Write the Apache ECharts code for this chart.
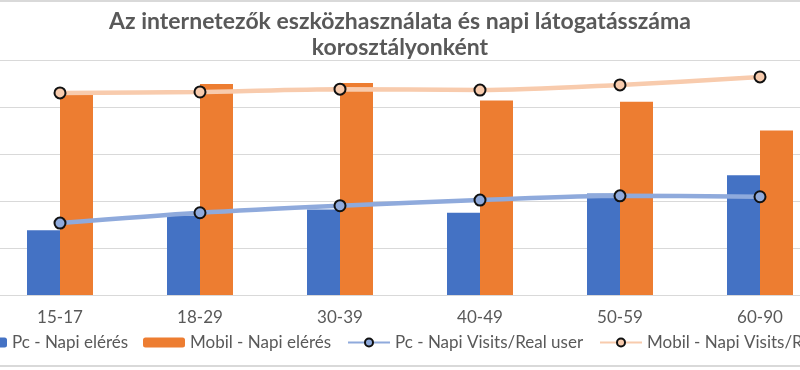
<!DOCTYPE html>
<html><head><meta charset="utf-8">
<script src="https://cdn.jsdelivr.net/npm/echarts@6/dist/echarts.min.js"></script>
<style>html,body{margin:0;padding:0;background:#fff}#c{width:800px;height:370px}</style>
</head><body><div id="c"></div>
<script>
const categories = ['15-17','18-29','30-39','40-49','50-59','60-90'];
const pcReach = [1.38, 1.69, 1.82, 1.75, 2.16, 2.55];
const mobilReach = [4.30, 4.49, 4.51, 4.14, 4.11, 3.50];
const pcVisits = [1.53, 1.75, 1.90, 2.02, 2.11, 2.09];
const mobilVisits = [4.30, 4.32, 4.38, 4.36, 4.47, 4.64];
const seriesNames = ['Pc - Napi elérés','Mobil - Napi elérés','Pc - Napi Visits/Real user','Mobil - Napi Visits/Real user'];

const FONT = 'Lato';
const txt = {color:'#595959', fontFamily:FONT, fontSize:17};
const legTxt = {color:'#595959', fontFamily:FONT, fontSize:17};
const chart = echarts.init(document.getElementById('c'));
function leg(name, left){
  return {data:[name], left:left, top:329, itemWidth:42, itemHeight:10, itemGap:5, textStyle:legTxt, selectedMode:false};
}
chart.setOption({
  animation:false,
  title:{text:'Az internetezők eszközhasználata és napi látogatásszáma\nkorosztályonként', left:'center', top:4,
    textStyle:{color:'#595959', fontFamily:FONT, fontSize:23, fontWeight:'bold', lineHeight:26}},
  graphic:[
    {type:'line', shape:{x1:0,y1:1,x2:800,y2:1}, style:{stroke:'#d9d9d9', lineWidth:2}},
    {type:'line', shape:{x1:0,y1:366,x2:800,y2:366}, style:{stroke:'#d9d9d9', lineWidth:2}}
  ],
  legend:[leg(seriesNames[0], -40), leg(seriesNames[1], 138), leg(seriesNames[2], 342), leg(seriesNames[3], 594)],
  grid:{left:-10, right:-30, top:60, bottom:75, outerBoundsMode:'none', containLabel:false},
  xAxis:{type:'category', data:categories, axisTick:{show:false},
    axisLine:{lineStyle:{color:'#d9d9d9', width:1}},
    axisLabel:Object.assign({margin:14}, txt)},
  yAxis:{type:'value', min:0, max:5, interval:1, axisLabel:{show:false},
    splitLine:{lineStyle:{color:'#d9d9d9', width:1}}},
  series:[
    {name:seriesNames[0], type:'bar', data:pcReach, barWidth:33, barGap:'0%', itemStyle:{color:'#4472C4'}},
    {name:seriesNames[1], type:'bar', data:mobilReach, barWidth:33, barGap:'0%', itemStyle:{color:'#ED7D31'}},
    {name:seriesNames[2], type:'line', data:pcVisits, smooth:0.3, symbol:'circle', symbolSize:11,
      lineStyle:{color:'#8FAADC', width:4.5}, itemStyle:{color:'#8FAADC', borderColor:'#111', borderWidth:2}},
    {name:seriesNames[3], type:'line', data:mobilVisits, smooth:0.3, symbol:'circle', symbolSize:11,
      lineStyle:{color:'#F8CBAD', width:4.5}, itemStyle:{color:'#F8CBAD', borderColor:'#111', borderWidth:2}}
  ]
});
</script></body></html>
